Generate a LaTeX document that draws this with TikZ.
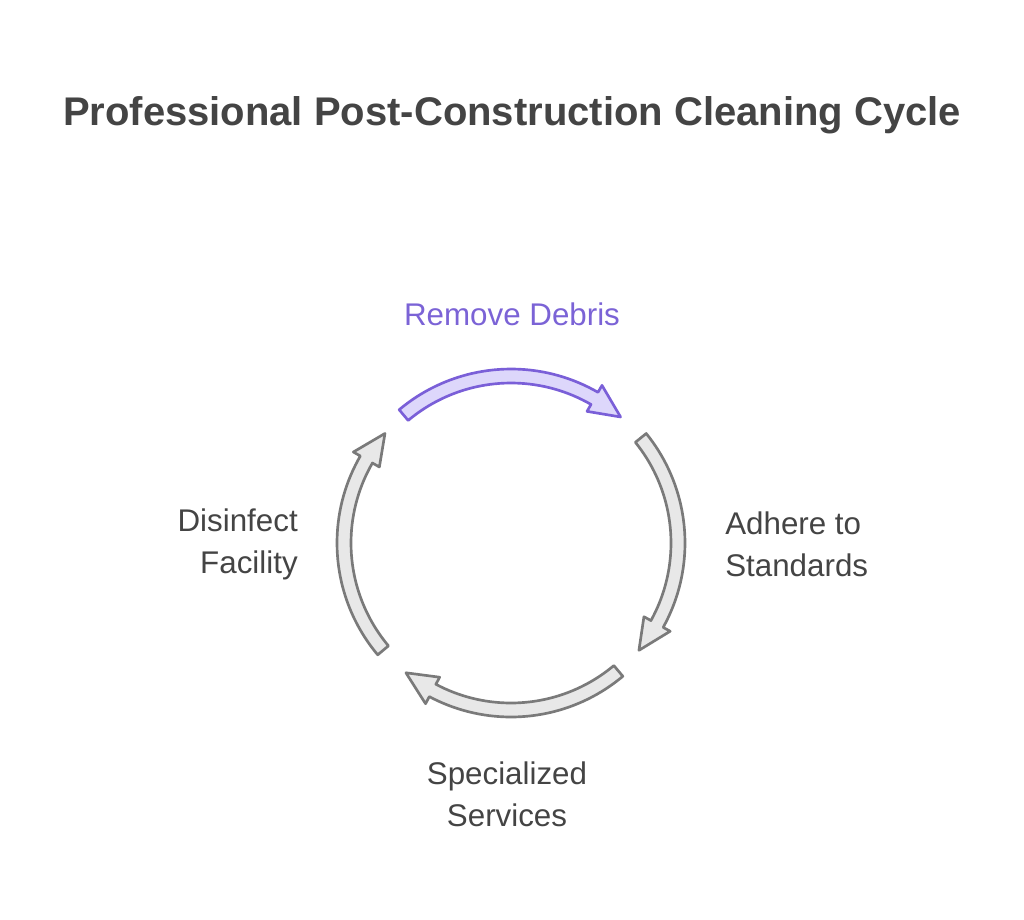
\documentclass[tikz,border=0pt]{standalone}
\usepackage{fontspec}
\setmainfont{Liberation Sans}
\definecolor{txt}{HTML}{444444}
\definecolor{gs}{HTML}{7A7A7A}
\definecolor{gf}{HTML}{E8E8E8}
\definecolor{ps}{HTML}{7A5FD8}
\definecolor{pf}{HTML}{DDD7FB}
\definecolor{pt}{HTML}{7B63D6}
\tikzset{lbl/.style={font=\fontsize{23.5}{31.5}\selectfont,text=txt,inner sep=0pt},
 garc/.style={draw=gs,fill=gf,line width=2pt,line join=round},
 parc/.style={draw=ps,fill=pf,line width=2pt,line join=round}}
\newcommand{\cyclearc}[3]{%
 \pgfmathsetmacro{\hh}{#2+11}%
 \path[#3] plot[domain=#1:\hh,samples=40] ({511+174*cos(\x)},{543-174*sin(\x)})
  -- ({511+182*cos(\hh)},{543-182*sin(\hh)})
  -- ({511+167*cos(#2)},{543-167*sin(#2)})
  -- ({511+152*cos(\hh)},{543-152*sin(\hh)})
  -- plot[domain=\hh:#1,samples=40] ({511+160*cos(\x)},{543-160*sin(\x)}) -- cycle;}
\begin{document}
\begin{tikzpicture}[x=0.75pt,y=-0.75pt]
\path[use as bounding box] (0,0) rectangle (1024,920);
\node[font=\fontsize{30}{35}\selectfont\bfseries,text=txt] (title) at (512,115) {Professional Post-Construction Cleaning Cycle};
\cyclearc{130}{49}{parc}
\cyclearc{39}{-40}{garc}
\cyclearc{-50}{-129}{garc}
\cyclearc{-140}{-221}{garc}
\node[lbl,text=pt] (t1) at (512,314) {Remove Debris};
\node[lbl,anchor=west,align=left] (t2) at (725,544) {Adhere to\\Standards};
\node[lbl,align=center] (t3) at (507,794) {Specialized\\Services};
\node[lbl,anchor=east,align=right] (t4) at (298,544) {Disinfect\\Facility};
\end{tikzpicture}
\end{document}
